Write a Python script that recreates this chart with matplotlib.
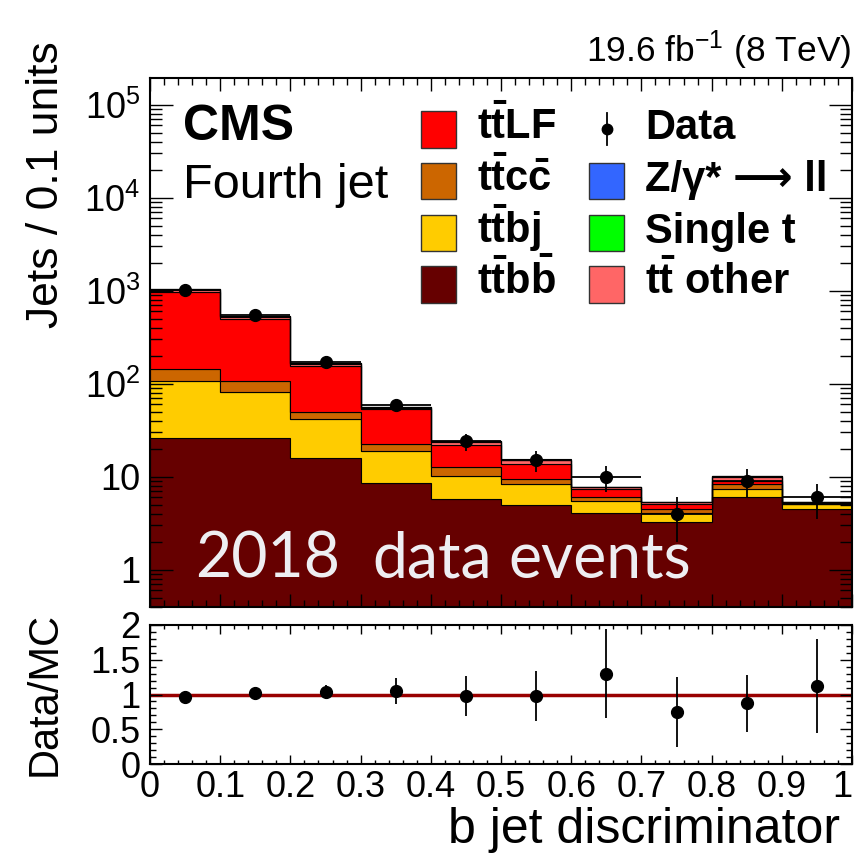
import numpy as np
import matplotlib
matplotlib.use('Agg')
import matplotlib.pyplot as plt
from matplotlib.patches import Rectangle
from matplotlib.lines import Line2D
from matplotlib.ticker import MultipleLocator, LogLocator, FuncFormatter, NullFormatter

plt.rcParams['font.family'] = ['Liberation Sans', 'DejaVu Sans']
plt.rcParams['mathtext.fontset'] = 'custom'
plt.rcParams['mathtext.rm'] = 'Liberation Sans'
plt.rcParams['mathtext.it'] = 'Liberation Sans:italic'
plt.rcParams['mathtext.bf'] = 'Liberation Sans:bold'

# b jet discriminator binning, fourth jet
edges = [0.0, 0.1, 0.2, 0.3, 0.4, 0.5, 0.6, 0.7, 0.8, 0.9, 1.0]
centers = [0.05, 0.15, 0.25, 0.35, 0.45, 0.55, 0.65, 0.75, 0.85, 0.95]

# simulated processes (jets per bin)
ttbb = [26.1, 26.1, 15.9, 8.6, 5.7, 4.95, 4.03, 3.29, 6.03, 4.48]
ttbj = [81.9, 56.4, 25.9, 10.2, 4.5, 3.3, 1.39, 0.81, 1.44, 0.56]
ttcc = [36.5, 24.9, 8.5, 3.5, 2.4, 1.25, 0.56, 0.38, 0.78, 0.05]
ttlf = [828, 389, 106, 30.6, 9.2, 4.1, 1.49, 0.56, 0.79, 0.10]
tt_other = [45, 26, 6.0, 1.6, 1.9, 1.5, 0.20, 0.25, 0.85, 0.12]
single_t = [28, 15, 3.5, 1.5, 0.6, 0.20, 0.04, 0.04, 0.30, 0.03]
zjets = [4, 2, 0.5, 0.2, 0.2, 0.05, 0.01, 0.01, 0.10, 0.01]

# observed jets
data = [1017, 552, 173, 59, 24, 15, 10, 4, 9, 6]
# total uncertainty on data/MC
ratio_err = [0.02, 0.03, 0.10, 0.19, 0.285, 0.36, 0.64, 0.50, 0.41, 0.67]

colors = {
    'ttlf': '#FF0000', 'ttcc': '#CC6600', 'ttbj': '#FFCC00', 'ttbb': '#660000',
    'zjets': '#3366FF', 'single_t': '#00FF00', 'tt_other': '#FF6666',
}

W, H = 859, 865
fig = plt.figure(figsize=(W / 100, H / 100), dpi=100)
ax = fig.add_axes([150 / W, 1 - 606.7 / H, 702 / W, 528.4 / H])
rax = fig.add_axes([150 / W, 1 - 764 / H, 702 / W, 139 / H])


def fig_xy(px, py):
    # pixel position (from top-left) -> figure fraction
    return px / W, 1 - py / H


# stacked histogram, bottom to top
layers = [(ttbb, 'ttbb'), (ttbj, 'ttbj'), (ttcc, 'ttcc'), (ttlf, 'ttlf'),
          (tt_other, 'tt_other'), (single_t, 'single_t'), (zjets, 'zjets')]
base = np.zeros(len(centers))
for vals, key in layers:
    top = base + np.array(vals)
    ax.stairs(top, edges, baseline=base, fill=True, facecolor=colors[key],
              edgecolor='black', linewidth=0.8)
    base = top
mc_total = base

data = np.array(data, dtype=float)
ax.errorbar(centers, data, yerr=np.sqrt(data), xerr=0.05, fmt='o', color='black',
            ms=8.5, elinewidth=1.3, capsize=0, zorder=5)

ax.set_yscale('log')
ax.set_xlim(0, 1)
ax.set_ylim(0.4, 1.93e5)
ax.yaxis.set_major_locator(LogLocator(base=10, numticks=12))
ax.yaxis.set_minor_locator(LogLocator(base=10, subs=np.arange(2, 10), numticks=12))
ax.yaxis.set_minor_formatter(NullFormatter())


def log_label(v, pos):
    if v == 1:
        return '1'
    if v == 10:
        return '10'
    return r'$10^{%d}$' % round(np.log10(v))


ax.yaxis.set_major_formatter(FuncFormatter(log_label))
ax.xaxis.set_major_locator(MultipleLocator(0.1))
ax.xaxis.set_minor_locator(MultipleLocator(0.02))
ax.tick_params(which='both', direction='in', top=True, right=True, width=1)
ax.tick_params(axis='y', which='major', length=16.5, labelsize=26, pad=7)
ax.tick_params(axis='y', which='minor', length=8.6)
ax.tick_params(axis='x', which='major', length=9.5, labelbottom=False)
ax.tick_params(axis='x', which='minor', length=5)

# ratio panel
ratio = data / mc_total
rax.axhline(1, color='#990000', lw=2.5, zorder=1)
rax.errorbar(centers, ratio, yerr=ratio_err, fmt='o', color='black',
             ms=8.5, elinewidth=1.3, capsize=0, zorder=5)
rax.set_xlim(0, 1)
rax.set_ylim(0, 2)
rax.xaxis.set_major_locator(MultipleLocator(0.1))
rax.xaxis.set_minor_locator(MultipleLocator(0.02))
rax.yaxis.set_major_locator(MultipleLocator(0.5))
rax.yaxis.set_minor_locator(MultipleLocator(0.1))
rax.yaxis.set_major_formatter(FuncFormatter(lambda v, p: '%g' % v))
rax.xaxis.set_major_formatter(FuncFormatter(lambda v, p: '%g' % v))
rax.tick_params(which='both', direction='in', top=True, right=True, width=1, labelsize=26)
rax.tick_params(axis='y', which='major', length=8.6, pad=7)
rax.tick_params(axis='y', which='minor', length=4.3)
rax.tick_params(axis='x', which='major', length=6.5, pad=4)
rax.tick_params(axis='x', which='minor', length=3.2)
# keep the "1" at the right end inside the canvas
fig.canvas.draw()
for tick in rax.xaxis.get_major_ticks():
    if abs(tick.get_loc() - 1.0) < 1e-9:
        tick.label1.set_horizontalalignment('right')

for a in (ax, rax):
    for s in a.spines.values():
        s.set_linewidth(1.5)

# axis titles
fig.text(*fig_xy(47, 185), 'Jets / 0.1 units', rotation=90, ha='center', va='center', fontsize=32)
fig.text(*fig_xy(45, 694), 'Data/MC', rotation=90, ha='center', va='center', fontsize=30)
fig.text(*fig_xy(840, 843), 'b jet discriminator', ha='right', va='baseline', fontsize=36)
fig.text(*fig_xy(851, 62), r'19.6 fb$^{-1}$ (8 TeV)', ha='right', va='baseline', fontsize=25.5)

ax.text(0.047, 0.883, 'CMS', transform=ax.transAxes, fontsize=36, fontweight='bold', va='baseline')
ax.text(0.047, 0.7735, 'Fourth jet', transform=ax.transAxes, fontsize=35, va='baseline')
for word, px in (('2018', 195), ('data', 372), ('events', 508)):
    fig.text(*fig_xy(px, 578), word, fontsize=45, family='Lato', color='#EEEEF2',
             va='baseline', zorder=6)

# legend, two columns of four rows
rows = [129.3, 181, 233, 284.5]
left_col = [('ttlf', r'$\mathbf{t\bar{t}LF}$'), ('ttcc', r'$\mathbf{t\bar{t}c\bar{c}}$'),
            ('ttbj', r'$\mathbf{t\bar{t}bj}$'), ('ttbb', r'$\mathbf{t\bar{t}b\bar{b}}$')]
right_col = [(None, 'Data'), ('zjets', 'Z/γ* ⟶ ll'),
             ('single_t', 'Single t'), ('tt_other', r'$\mathbf{t\bar{t}}$ other')]
for box_x, text_x, entries in ((420.7, 476.7, left_col), (589, 645, right_col)):
    for row, (key, label) in zip(rows, entries):
        if key is None:
            fig.add_artist(Line2D([fig_xy(box_x + 17.7, 0)[0]] * 2,
                                  [fig_xy(0, row - 16)[1], fig_xy(0, row + 16)[1]],
                                  color='black', lw=1.3, transform=fig.transFigure))
            fig.add_artist(Line2D([fig_xy(box_x + 17.7, 0)[0]], [fig_xy(0, row)[1]],
                                  marker='o', ms=7.5, color='black', transform=fig.transFigure))
        else:
            fig.add_artist(Rectangle(fig_xy(box_x, row + 18.3), 35.3 / W, 36.6 / H,
                                     transform=fig.transFigure, facecolor=colors[key],
                                     edgecolor='#333333', lw=1))
        fig.text(*fig_xy(text_x, row + 10), label, fontsize=30, fontweight='bold', va='baseline')

fig.savefig('out.png', dpi=100)
